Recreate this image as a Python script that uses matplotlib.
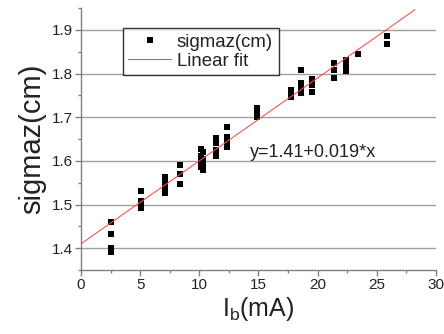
import matplotlib
matplotlib.use("Agg")
import matplotlib.pyplot as plt
from matplotlib.ticker import MultipleLocator

plt.rcParams["font.family"] = ["Liberation Sans", "DejaVu Sans"]
plt.rcParams["mathtext.fontset"] = "custom"
plt.rcParams["mathtext.rm"] = "Liberation Sans"

# measured beam size vs bunch current
ib = [2.5, 2.5, 2.5, 2.5,
      5.1, 5.1, 5.1, 5.1,
      7.1, 7.1, 7.1, 7.1,
      8.4, 8.4, 8.4,
      10.1, 10.1, 10.1, 10.1,
      10.3, 10.3, 10.3, 10.3,
      11.4, 11.4, 11.4, 11.4,
      12.3, 12.3, 12.3, 12.3,
      14.9, 14.9, 14.9,
      17.75, 17.75, 17.75,
      18.6, 18.6, 18.6, 18.6,
      19.5, 19.5, 19.5,
      21.4, 21.4, 21.4,
      22.4, 22.4, 22.4,
      23.4,
      25.85, 25.85]
sigmaz = [1.461, 1.432, 1.400, 1.391,
          1.532, 1.508, 1.499, 1.492,
          1.562, 1.549, 1.536, 1.527,
          1.590, 1.569, 1.547,
          1.628, 1.612, 1.598, 1.585,
          1.620, 1.605, 1.590, 1.578,
          1.652, 1.640, 1.625, 1.611,
          1.678, 1.655, 1.643, 1.632,
          1.721, 1.710, 1.700,
          1.762, 1.752, 1.746,
          1.808, 1.778, 1.767, 1.756,
          1.788, 1.774, 1.758,
          1.824, 1.808, 1.790,
          1.831, 1.817, 1.806,
          1.845,
          1.886, 1.868]

fit_a, fit_b = 1.41, 0.019
fit_x = [0.0, 28.2]
fit_y = [fit_a + fit_b * x for x in fit_x]

spine_c = "#808080"
text_c = "#222222"

fig = plt.figure(figsize=(4.44, 3.34), dpi=100)
ax = fig.add_axes([0.1824, 0.1916, 0.7996, 0.7844])

ax.plot(ib, sigmaz, "s", color="black", ms=4.6, mew=0, label="sigmaz(cm)", zorder=3)
ax.plot(fit_x, fit_y, color="#ff4a4a", lw=0.75, label="Linear fit", zorder=4)

ax.set_xlim(0, 30)
ax.set_ylim(1.35, 1.95)
ax.xaxis.set_major_locator(MultipleLocator(5))
ax.xaxis.set_minor_locator(MultipleLocator(2.5))
ax.yaxis.set_major_locator(MultipleLocator(0.1))
ax.yaxis.set_minor_locator(MultipleLocator(0.05))

ax.yaxis.grid(True, which="major", color="#a0a0a0", lw=1.0)
ax.set_axisbelow(True)

for s in ("top", "right"):
    ax.spines[s].set_visible(False)
for s in ("left", "bottom"):
    ax.spines[s].set_color(spine_c)
    ax.spines[s].set_linewidth(1.0)

ax.tick_params(which="major", direction="out", length=4, width=1, color=spine_c,
               labelsize=11, labelcolor=text_c, pad=2)
ax.tick_params(which="minor", direction="out", length=2.5, width=1, color=spine_c)

ax.set_ylabel("sigmaz(cm)", fontsize=21, color=text_c, labelpad=4)
ax.set_xlabel(r"I$_\mathregular{b}$(mA)", fontsize=18, color=text_c, labelpad=2)

ax.text(14.3, 1.609, "y=1.41+0.019*x", fontsize=13, color=text_c)

leg = ax.legend(loc="upper left", bbox_to_anchor=(0.118, 0.924), borderaxespad=0,
                fontsize=13.4, frameon=True, fancybox=False, handlelength=2.3,
                handletextpad=0.3, labelspacing=0.12, borderpad=0.3,
                numpoints=1, edgecolor="black")
leg.get_frame().set_linewidth(1.0)
for t in leg.get_texts():
    t.set_color(text_c)

fig.savefig("out.png", dpi=100)
